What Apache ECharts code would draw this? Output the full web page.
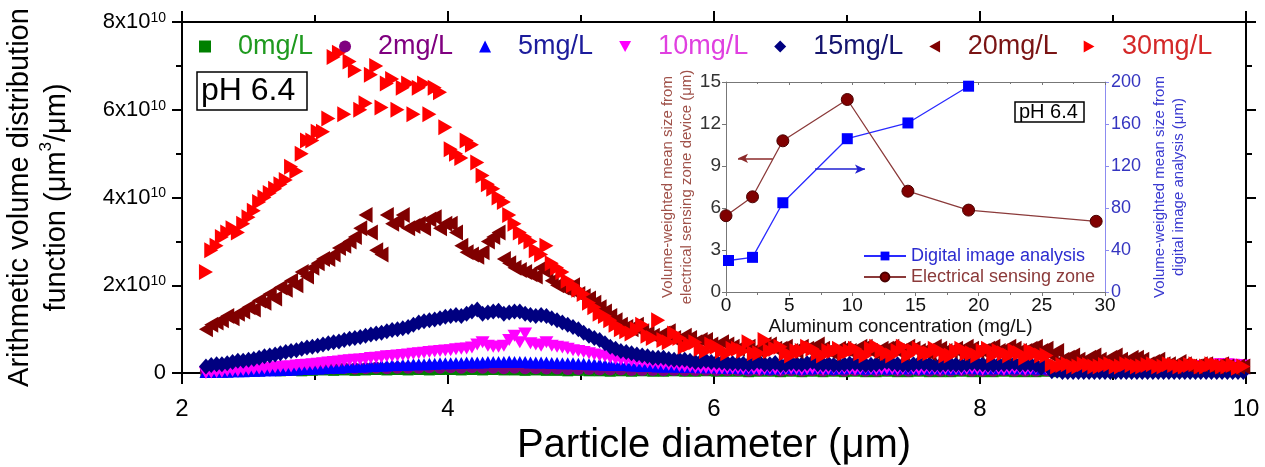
<!DOCTYPE html>
<html><head><meta charset="utf-8">
<script src="https://cdn.jsdelivr.net/npm/echarts@6/dist/echarts.min.js"></script>
<style>html,body{margin:0;padding:0;background:#fff}#c{width:1265px;height:467px}</style>
</head><body><div id="c"></div>
<script>
// Particle diameter bins (µm), set A and interleaved set B
const diameter = [
2.18,2.26,2.34,2.42,2.50,2.58,2.66,2.74,2.82,2.90,
2.98,3.06,3.14,3.22,3.30,3.38,3.46,3.54,3.62,3.70,
3.78,3.86,3.94,4.02,4.10,4.18,4.26,4.34,4.42,4.50,
4.58,4.66,4.74,4.82,4.90,4.98,5.06,5.14,5.22,5.30,
5.38,5.46,5.54,5.62,5.70,5.78,5.86,5.94,6.02,6.10,
6.18,6.26,6.34,6.42,6.50,6.58,6.66,6.74,6.82,6.90,
6.98,7.06,7.14,7.22,7.30,7.38,7.46,7.54,7.62,7.70,
7.78,7.86,7.94,8.02,8.10,8.18,8.26,8.34,8.42,8.50,
8.58,8.66,8.74,8.82,8.90,8.98,9.06,9.14,9.22,9.30,
9.38,9.46,9.54,9.62,9.70,9.78,9.86,9.94];
const diameterB = [
2.22,2.30,2.38,2.46,2.54,2.62,2.70,2.78,2.86,2.94,
3.02,3.10,3.18,3.26,3.34,3.42,3.50,3.58,3.66,3.74,
3.82,3.90,3.98,4.06,4.14,4.22,4.30,4.38,4.46,4.54,
4.62,4.70,4.78,4.86,4.94,5.02,5.10,5.18,5.26,5.34,
5.42,5.50,5.58,5.66,5.74,5.82,5.90,5.98,6.06,6.14,
6.22,6.30,6.38,6.46,6.54,6.62,6.70,6.78,6.86,6.94,
7.02,7.10,7.18,7.26,7.34,7.42,7.50,7.58,7.66,7.74,
7.82,7.90,7.98,8.06,8.14,8.22,8.30,8.38,8.46,8.54,
8.62,8.70,8.78,8.86,8.94,9.02,9.10,9.18,9.26,9.34,
9.42,9.50,9.58,9.66,9.74,9.82,9.90,9.98];

// Volume distribution values in units of 1e10 µm^3/µm
const v0mg = [
0.03,0.04,0.03,0.05,0.04,0.05,0.06,0.05,0.06,0.05,
0.06,0.07,0.06,0.07,0.06,0.07,0.08,0.07,0.08,0.07,
0.08,0.07,0.08,0.08,0.07,0.08,0.07,0.08,0.07,0.07,
0.06,0.07,0.06,0.06,0.05,0.06,0.05,0.05,0.04,0.05,
0.04,0.05,0.04,0.04,0.05,0.04,0.04,0.05,0.04,0.04,
0.04,0.03,0.04,0.04,0.03,0.04,0.03,0.04,0.03,0.04,
0.03,0.04,0.03,0.03,0.04,0.03,0.03,0.04,0.03,0.03,
0.03,0.04,0.03,0.03,0.03,0.04,0.03,0.03,0.03,0.04,
0.03,0.03,0.04,0.03,0.03,0.03,0.04,0.03,0.03,0.03,
0.04,0.03,0.03,0.03,0.04,0.03,0.03,0.03];
const v2mg = [
0.04,0.05,0.05,0.06,0.06,0.07,0.07,0.08,0.08,0.09,
0.09,0.10,0.10,0.11,0.10,0.11,0.12,0.11,0.12,0.12,
0.12,0.13,0.12,0.13,0.12,0.13,0.12,0.12,0.11,0.12,
0.11,0.11,0.10,0.10,0.09,0.09,0.09,0.08,0.08,0.08,
0.07,0.07,0.07,0.06,0.07,0.06,0.06,0.07,0.06,0.06,
0.06,0.05,0.06,0.06,0.05,0.06,0.05,0.06,0.05,0.06,
0.05,0.06,0.05,0.05,0.06,0.05,0.05,0.06,0.05,0.05,
0.05,0.06,0.05,0.05,0.05,0.06,0.05,0.05,0.05,0.06,
0.05,0.05,0.06,0.05,0.05,0.05,0.06,0.05,0.05,0.05,
0.06,0.05,0.05,0.05,0.06,0.05,0.05,0.05];
const v5mg = [
0.02,0.03,0.03,0.04,0.05,0.05,0.06,0.07,0.08,0.09,
0.10,0.11,0.12,0.13,0.14,0.15,0.16,0.17,0.18,0.19,
0.20,0.21,0.22,0.22,0.23,0.24,0.24,0.25,0.25,0.25,
0.25,0.24,0.24,0.23,0.22,0.21,0.20,0.20,0.19,0.18,
0.17,0.16,0.16,0.15,0.15,0.14,0.14,0.13,0.13,0.12,
0.12,0.11,0.12,0.10,0.11,0.12,0.10,0.11,0.12,0.10,
0.11,0.12,0.10,0.11,0.10,0.12,0.11,0.10,0.11,0.12,
0.10,0.11,0.12,0.10,0.11,0.10,0.12,0.11,0.10,0.11,
0.12,0.11,0.12,0.11,0.12,0.11,0.12,0.11,0.12,0.11,
0.12,0.11,0.12,0.11,0.12,0.11,0.12,0.10];
const v5mgB = [
0.02,0.03,0.04,0.04,0.05,0.06,0.06,0.07,0.08,0.09,
0.10,0.12,0.12,0.14,0.15,0.16,0.17,0.18,0.19,0.20,
0.20,0.21,0.22,0.23,0.24,0.24,0.25,0.25,0.26,0.25,
0.24,0.24,0.23,0.22,0.22,0.21,0.20,0.19,0.18,0.18,
0.17,0.16,0.15,0.15,0.14,0.14,0.13,0.13,0.12,0.12,
0.11,0.12,0.11,0.11,0.12,0.11,0.11,0.12,0.11,0.11,
0.12,0.11,0.11,0.12,0.11,0.11,0.12,0.11,0.11,0.11,
0.11,0.12,0.11,0.11,0.12,0.11,0.11,0.12,0.11,0.12,
0.11,0.12,0.11,0.12,0.11,0.12,0.11,0.12,0.11,0.12,
0.11,0.12,0.11,0.12,0.11,0.12,0.11,0.11];
const v10mg = [
0.00,0.02,0.05,0.05,0.08,0.10,0.12,0.14,0.15,0.18,
0.20,0.22,0.25,0.28,0.30,0.32,0.35,0.38,0.40,0.42,
0.45,0.48,0.50,0.52,0.55,0.58,0.70,0.60,0.62,0.85,
0.90,0.65,0.70,0.60,0.55,0.50,0.45,0.40,0.35,0.30,
0.28,0.25,0.22,0.20,0.18,0.15,0.12,0.12,0.10,0.10,
0.10,0.10,0.08,0.10,0.08,0.10,0.08,0.10,0.08,0.10,
0.10,0.08,0.10,0.08,0.10,0.08,0.10,0.08,0.10,0.08,
0.10,0.08,0.10,0.08,0.10,0.08,0.10,0.08,0.10,0.10,
0.10,0.12,0.10,0.12,0.10,0.12,0.10,0.12,0.10,0.12,
0.12,0.14,0.12,0.14,0.15,0.20,0.20,0.18];
const v10mgB = [
0.01,0.03,0.05,0.07,0.09,0.11,0.13,0.15,0.17,0.19,
0.21,0.24,0.26,0.29,0.31,0.34,0.36,0.39,0.41,0.44,
0.46,0.49,0.51,0.54,0.56,0.65,0.62,0.60,0.75,0.70,
0.68,0.62,0.62,0.58,0.52,0.48,0.42,0.38,0.32,0.29,
0.26,0.24,0.21,0.19,0.16,0.14,0.12,0.11,0.10,0.10,
0.09,0.09,0.09,0.09,0.09,0.09,0.09,0.09,0.09,0.09,
0.09,0.09,0.09,0.09,0.09,0.09,0.09,0.09,0.09,0.09,
0.09,0.09,0.09,0.09,0.09,0.09,0.09,0.09,0.09,0.10,
0.11,0.11,0.11,0.11,0.11,0.11,0.11,0.11,0.11,0.11,
0.13,0.13,0.14,0.16,0.18,0.20,0.19,0.17];
const v15mg = [
0.15,0.20,0.22,0.28,0.30,0.35,0.40,0.45,0.50,0.55,
0.60,0.65,0.70,0.75,0.80,0.85,0.90,0.95,1.00,1.05,
1.15,1.20,1.25,1.30,1.30,1.40,1.35,1.40,1.35,1.40,
1.35,1.30,1.30,1.20,1.10,1.00,0.85,0.75,0.60,0.50,
0.45,0.40,0.35,0.35,0.30,0.30,0.25,0.28,0.25,0.22,
0.22,0.20,0.25,0.20,0.18,0.22,0.20,0.25,0.20,0.18,
0.20,0.22,0.18,0.20,0.25,0.20,0.18,0.22,0.20,0.18,
0.20,0.18,0.22,0.20,0.18,0.20,0.22,0.20,0.18,0.20,
0.05,0.02,0.02,0.02,0.02,0.02,0.02,0.02,0.02,0.02,
0.02,0.02,0.02,0.02,0.02,0.02,0.02,0.02];
const v15mgB = [
0.18,0.20,0.25,0.28,0.32,0.38,0.42,0.48,0.52,0.58,
0.62,0.68,0.72,0.78,0.82,0.88,0.92,0.98,1.02,1.10,
1.18,1.22,1.28,1.32,1.35,1.45,1.38,1.42,1.38,1.40,
1.32,1.32,1.25,1.15,1.05,0.92,0.80,0.68,0.55,0.48,
0.42,0.38,0.35,0.32,0.30,0.28,0.26,0.25,0.24,0.22,
0.21,0.22,0.20,0.23,0.19,0.21,0.22,0.20,0.21,0.19,
0.21,0.20,0.19,0.22,0.21,0.19,0.20,0.21,0.19,0.20,
0.19,0.20,0.21,0.19,0.20,0.21,0.19,0.20,0.12,0.04,
0.02,0.02,0.02,0.02,0.02,0.02,0.02,0.02,0.02,0.02,
0.02,0.02,0.02,0.02,0.02,0.02,0.02,0.02];
const v20mg = [
1.00,1.15,1.30,1.35,1.50,1.65,1.80,1.95,2.10,2.30,
2.40,2.60,2.70,2.90,3.10,3.60,2.80,3.60,3.45,3.30,
3.40,3.50,3.30,3.40,2.90,2.70,2.75,3.10,2.60,2.40,
2.30,2.20,2.30,2.00,1.90,1.80,1.70,1.50,1.30,1.10,
1.00,0.95,0.85,0.90,0.80,0.85,0.70,0.75,0.60,0.65,
0.55,0.60,0.50,0.65,0.55,0.50,0.60,0.50,0.55,0.45,
0.55,0.50,0.60,0.45,0.55,0.50,0.60,0.50,0.45,0.55,
0.50,0.45,0.55,0.50,0.60,0.45,0.55,0.50,0.60,0.55,
0.50,0.35,0.30,0.35,0.30,0.35,0.30,0.35,0.30,0.25,
0.20,0.15,0.20,0.15,0.20,0.15,0.15,0.15];
const v20mgB = [
1.10,1.20,1.25,1.40,1.45,1.60,1.70,1.90,2.00,2.20,
2.50,2.60,2.85,3.00,3.30,3.20,2.70,3.40,3.60,3.35,
3.30,3.55,3.40,3.20,2.75,2.65,3.00,3.20,2.50,2.35,
2.25,2.40,2.10,1.95,2.00,1.75,1.60,1.40,1.20,1.05,
1.10,0.90,0.80,0.95,0.70,0.80,0.75,0.65,0.70,0.60,
0.60,0.50,0.65,0.55,0.60,0.50,0.55,0.65,0.50,0.55,
0.50,0.60,0.50,0.55,0.60,0.45,0.55,0.50,0.60,0.50,
0.55,0.60,0.50,0.55,0.50,0.60,0.50,0.55,0.50,0.40,
0.30,0.40,0.25,0.40,0.25,0.40,0.25,0.35,0.20,0.30,
0.20,0.25,0.15,0.20,0.15,0.20,0.12,0.15];
const v30mg = [
2.30,2.90,3.20,3.20,3.55,3.90,4.10,4.30,4.70,5.00,
5.30,5.50,7.20,5.90,6.90,6.15,7.00,6.60,6.00,6.60,
6.50,5.90,6.40,5.10,4.90,5.20,4.50,4.20,3.90,3.40,
3.10,2.80,2.90,2.40,2.10,1.90,1.60,1.35,1.20,1.00,
0.90,1.10,0.80,0.75,0.90,0.60,0.70,0.50,0.60,0.45,
0.55,0.70,0.45,0.50,0.60,0.40,0.50,0.55,0.40,0.50,
0.45,0.55,0.40,0.60,0.45,0.50,0.40,0.55,0.45,0.50,
0.40,0.55,0.45,0.50,0.40,0.45,0.50,0.35,0.45,0.40,
0.15,0.20,0.15,0.18,0.15,0.20,0.15,0.18,0.15,0.20,
0.15,0.18,0.15,0.20,0.15,0.18,0.15,0.12];
const v30mgB = [
2.80,3.10,3.30,3.40,3.70,4.00,4.20,4.40,4.60,5.30,
5.50,5.80,7.30,7.10,6.00,6.80,6.05,6.70,6.50,5.90,
6.60,6.50,5.60,5.00,5.30,4.80,4.30,4.00,3.60,3.20,
3.00,2.70,2.50,2.30,2.00,1.80,1.50,1.30,1.10,0.95,
1.00,0.85,1.20,0.70,0.80,0.65,0.55,0.65,0.50,0.55,
0.50,0.45,0.75,0.55,0.45,0.50,0.60,0.45,0.50,0.55,
0.50,0.45,0.55,0.50,0.40,0.60,0.50,0.45,0.55,0.40,
0.50,0.45,0.40,0.55,0.50,0.40,0.45,0.50,0.40,0.20,
0.18,0.15,0.20,0.15,0.18,0.15,0.20,0.15,0.18,0.15,
0.20,0.15,0.18,0.15,0.20,0.15,0.18,0.15];

// Inset data
const alConc = [0, 2.1, 4.5, 9.6, 14.4, 19.2, 29.3];
const electricalSize = [5.45, 6.8, 10.8, 13.75, 7.2, 5.85, 5.05];
const digitalConc = [0.2, 2.1, 4.5, 9.6, 14.4, 19.2];
const digitalSize = [30, 33, 85, 146, 161, 196];

const yTicksMain = [0, 2, 4, 6, 8];

const FONT = 'Liberation Sans, Arial, sans-serif';
const pts = (xs, vals) => xs.map((x, i) => [x, vals[i]]);

const seriesDefs = [
  {name: '0mg/L', a: v0mg, b: null, color: '#008000', text: '#1f9a1f', symbol: 'rect', size: [11, 11]},
  {name: '2mg/L', a: v2mg, b: null, color: '#800080', text: '#800080', symbol: 'circle', size: 12},
  {name: '5mg/L', a: v5mg, b: v5mgB, color: '#0000ff', text: '#1c1c9c', symbol: 'triangle', size: [13, 12]},
  {name: '10mg/L', a: v10mg, b: v10mgB, color: '#ff00ff', text: '#e040e0', symbol: 'path://M0,0L10,0L5,9Z', size: [14, 12]},
  {name: '15mg/L', a: v15mg, b: v15mgB, color: '#000080', text: '#14146e', symbol: 'diamond', size: [14, 16]},
  {name: '20mg/L', a: v20mg, b: v20mgB, color: '#800000', text: '#7a1414', symbol: 'path://M0,5L9,0L9,10Z', size: [14, 16]},
  {name: '30mg/L', a: v30mg, b: v30mgB, color: '#ff0000', text: '#d42828', symbol: 'path://M0,0L9,5L0,10Z', size: [14, 16]}
];

const chart = echarts.init(document.getElementById('c'));
const blackLine = {show: true, onZero: false, lineStyle: {color: '#000', width: 2}};
const blackTick = {show: true, length: 11, lineStyle: {color: '#000', width: 2}};
const blackMinor = {show: true, splitNumber: 2, length: 7, lineStyle: {color: '#000', width: 2}};
const grayLine = {show: true, onZero: false, lineStyle: {color: '#777', width: 1}};
const option = {
  animation: false,
  textStyle: {fontFamily: FONT},
  title: [
    {text: 'pH 6.4', left: 197, top: 72, borderColor: '#000', borderWidth: 1.5, padding: [3, 12, 3, 4],
     textStyle: {fontSize: 32, fontWeight: 'normal', color: '#000', fontFamily: FONT}},
    {text: 'pH 6.4', left: 1015, top: 102, borderColor: '#000', borderWidth: 1.5, padding: [0, 6, 0, 4],
     textStyle: {fontSize: 20, lineHeight: 20, fontWeight: 'normal', color: '#000', fontFamily: FONT}}
  ],
  legend: [
    {
      left: 194, top: 28, itemWidth: 12, itemHeight: 12, itemGap: 26,
      textStyle: {fontSize: 27, fontFamily: FONT, padding: [0, 0, 0, 22]},
      data: seriesDefs.map(s => ({name: s.name, textStyle: {color: s.text}}))
    },
    {
      left: 858, top: 242, orient: 'vertical', itemWidth: 42, itemHeight: 11, itemGap: 3,
      textStyle: {fontSize: 18, fontFamily: FONT},
      data: [
        {name: 'Digital image analysis', textStyle: {color: '#2b2bd0'}},
        {name: 'Electrical sensing zone', textStyle: {color: '#8b3a3a'}}
      ]
    }
  ],
  grid: [
    {left: 182, right: 19, top: 22, bottom: 94, containLabel: false, outerBoundsMode: 'none'},
    {left: 726, top: 82, width: 379, height: 210, containLabel: false, outerBoundsMode: 'none'}
  ],
  xAxis: [
    {gridIndex: 0, type: 'value', min: 2, max: 10, interval: 2, position: 'bottom',
     axisLine: blackLine, axisTick: blackTick, minorTick: blackMinor, splitLine: {show: false},
     axisLabel: {fontSize: 24, color: '#000', margin: 24, fontFamily: FONT},
     name: 'Particle diameter (μm)', nameLocation: 'middle', nameGap: 51,
     nameTextStyle: {fontSize: 40, color: '#000', fontFamily: FONT}},
    {gridIndex: 0, type: 'value', min: 2, max: 10, interval: 2, position: 'top',
     axisLine: blackLine, axisTick: blackTick, minorTick: blackMinor,
     splitLine: {show: false}, axisLabel: {show: false}},
    {gridIndex: 1, type: 'value', min: 0, max: 30, interval: 5, position: 'bottom',
     axisLine: grayLine,
     axisTick: {show: true, length: 4, lineStyle: {color: '#777'}},
     minorTick: {show: true, splitNumber: 2, length: 3, lineStyle: {color: '#777'}},
     splitLine: {show: false},
     axisLabel: {fontSize: 19, color: '#111', margin: 4, fontFamily: FONT},
     name: 'Aluminum concentration (mg/L)', nameLocation: 'middle', nameGap: 25,
     nameTextStyle: {fontSize: 19, color: '#111', fontFamily: FONT, padding: [0, 30, 0, 0]}},
    {gridIndex: 1, type: 'value', min: 0, max: 30, interval: 5, position: 'top',
     axisLine: grayLine,
     axisTick: {show: true, inside: true, length: 3, lineStyle: {color: '#777'}},
     minorTick: {show: true, splitNumber: 2, length: 2, lineStyle: {color: '#777'}},
     splitLine: {show: false}, axisLabel: {show: false}}
  ],
  yAxis: [
    {gridIndex: 0, type: 'value', min: 0, max: 8, interval: 2, position: 'left',
     axisLine: blackLine, axisTick: {show: true, length: 10, lineStyle: {color: '#000', width: 2}},
     minorTick: {show: true, splitNumber: 2, length: 6, lineStyle: {color: '#000', width: 2}},
     splitLine: {show: false},
     axisLabel: {margin: 16, color: '#000',
       formatter: v => (yTicksMain.indexOf(v) < 0 ? '' : (v === 0 ? '{b|0}' : '{b|' + v + 'x10}{s|10}')),
       rich: {b: {fontSize: 22, color: '#000', fontFamily: FONT},
              s: {fontSize: 14, color: '#000', fontFamily: FONT, verticalAlign: 'top'}}},
     name: 'Arithmetic volume distribution\nfunction (μm{s|3}/μm)', nameLocation: 'middle', nameGap: 107,
     nameTextStyle: {fontSize: 29, lineHeight: 37, color: '#000', fontFamily: FONT,
       rich: {s: {fontSize: 17, color: '#000', fontFamily: FONT, verticalAlign: 'top'}}}},
    {gridIndex: 0, type: 'value', min: 0, max: 8, interval: 2, position: 'right',
     axisLine: blackLine, axisTick: {show: true, length: 10, lineStyle: {color: '#000', width: 2}},
     minorTick: {show: true, splitNumber: 2, length: 6, lineStyle: {color: '#000', width: 2}},
     splitLine: {show: false}, axisLabel: {show: false}},
    {gridIndex: 1, type: 'value', min: 0, max: 15, interval: 3, position: 'left',
     axisLine: grayLine,
     axisTick: {show: true, length: 4, lineStyle: {color: '#777'}},
     splitLine: {show: false},
     axisLabel: {fontSize: 19, color: '#333', margin: 5, fontFamily: FONT},
     name: 'Volume-weighted mean size from\nelectrical sensing zone device (μm)', nameLocation: 'middle', nameGap: 30,
     nameTextStyle: {fontSize: 15, lineHeight: 19, color: '#a0524a', fontFamily: FONT}},
    {gridIndex: 1, type: 'value', min: 0, max: 200, interval: 40, position: 'right',
     axisLine: {show: true, onZero: false, lineStyle: {color: '#8c8cf0', width: 1}},
     axisTick: {show: true, length: 4, lineStyle: {color: '#8c8cf0'}},
     splitLine: {show: false},
     axisLabel: {fontSize: 18, color: '#3535c0', margin: 6, fontFamily: FONT},
     name: 'Volume-weighted mean size from\ndigital image analysis (μm)', nameLocation: 'middle', nameGap: 45,
     nameTextStyle: {fontSize: 15, lineHeight: 19, color: '#3a3ad0', fontFamily: FONT}}
  ],
  series: seriesDefs.map(s => ({
    name: s.name, type: 'scatter', xAxisIndex: 0, yAxisIndex: 0,
    symbol: s.symbol, symbolSize: s.size,
    itemStyle: {color: s.color, opacity: 1},
    emphasis: {disabled: true},
    data: s.b ? pts(diameter, s.a).concat(pts(diameterB, s.b)) : pts(diameter, s.a)
  })).concat([
    {name: 'Digital image analysis', type: 'line', xAxisIndex: 2, yAxisIndex: 3,
     symbol: 'rect', symbolSize: 11, showAllSymbol: true,
     itemStyle: {color: '#0000ff'}, lineStyle: {color: '#2a2aff', width: 1.3},
     data: pts(digitalConc, digitalSize),
     markLine: {silent: true, symbol: ['none', 'arrow'], symbolSize: [7, 10],
       lineStyle: {color: '#2020d0', width: 1.5, type: 'solid'}, label: {show: false},
       data: [[{coord: [7.05, 117]}, {coord: [11.0, 117]}]]}},
    {name: 'Electrical sensing zone', type: 'line', xAxisIndex: 2, yAxisIndex: 2,
     symbol: 'circle', symbolSize: 12, showAllSymbol: true,
     itemStyle: {color: '#800000', borderColor: '#4a0000', borderWidth: 1},
     lineStyle: {color: '#8b3a3a', width: 1.3},
     data: pts(alConc, electricalSize),
     markLine: {silent: true, symbol: ['none', 'arrow'], symbolSize: [7, 10],
       lineStyle: {color: '#8b2a2a', width: 1.5, type: 'solid'}, label: {show: false},
       data: [[{coord: [3.7, 9.55]}, {coord: [0.95, 9.55]}]]}}
  ])
};
chart.setOption(option);
</script></body></html>
